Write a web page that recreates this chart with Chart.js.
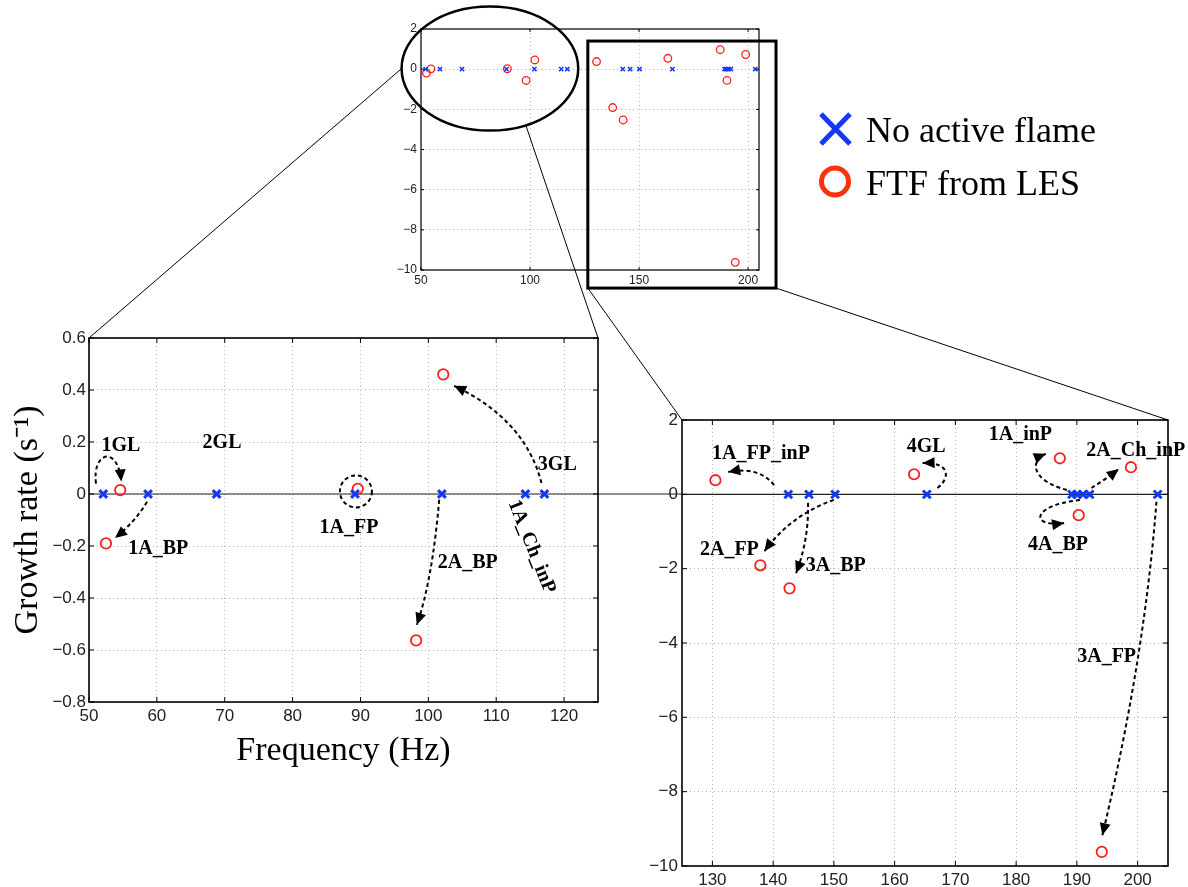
<!DOCTYPE html>
<html>
<head>
<meta charset="utf-8">
<script src="https://cdn.jsdelivr.net/npm/chart.js@4.4.1/dist/chart.umd.min.js"></script>
<style>
  html, body { margin: 0; padding: 0; background: #fff; }
  #wrap { position: relative; width: 1188px; height: 887px; }
  #wrap canvas { position: absolute; left: 0; top: 0; }
</style>
</head>
<body>
<div id="wrap">
  <canvas id="leftChart" width="1188" height="887"></canvas>
  <canvas id="rightChart" width="1188" height="887"></canvas>
  <canvas id="overviewChart" width="1188" height="887"></canvas>
</div>
<script>
// modes without active flame (Hz, growth rate 1/s)
const passiveFreq = [52.1, 58.7, 68.8, 89.2, 102.0, 114.3, 117.1, 142.5, 145.9, 150.2, 165.3, 189.2, 190.0, 191.0, 192.1, 203.3];
const passiveRate = [0, 0, 0, 0, 0, 0, 0, 0, 0, 0, 0, 0, 0, 0, 0, 0];
// modes with FTF from LES
const lesFreq = [52.5, 54.6, 89.6, 98.2, 102.2, 130.5, 137.9, 142.7, 163.2, 187.2, 190.3, 198.9, 194.1];
const lesRate = [-0.19, 0.015, 0.02, -0.563, 0.46, 0.38, -1.91, -2.53, 0.54, 0.97, -0.56, 0.73, -9.62];

const overviewXTicks = [50, 100, 150, 200];
const overviewYTicks = [-10, -8, -6, -4, -2, 0, 2];
const leftXTicks = [50, 60, 70, 80, 90, 100, 110, 120];
const leftYTicks = [-0.8, -0.6, -0.4, -0.2, 0, 0.2, 0.4, 0.6];
const rightXTicks = [130, 140, 150, 160, 170, 180, 190, 200];
const rightYTicks = [-10, -8, -6, -4, -2, 0, 2];

const W = 1188, H = 887;
const BLUE = '#1438f5';
const RED = '#ff1e1e';
const LABEL_FONT = 'bold 20px "Liberation Serif", "Times New Roman", serif';

// plot areas of the three axes
const AREA = {
  overview: {left: 421, top: 29, right: 759, bottom: 270},
  left: {left: 89, top: 338, right: 598, bottom: 702},
  right: {left: 682, top: 420, right: 1168, bottom: 866},
};

// mode labels and arrows, in data units of each axes
const leftLabels = [
  {text: '1GL', x: 54.7, y: 0.186},
  {text: '2GL', x: 69.6, y: 0.197},
  {text: '1A_BP', x: 60.2, y: -0.21},
  {text: '1A_FP', x: 88.3, y: -0.13},
  {text: '2A_BP', x: 105.8, y: -0.264},
  {text: '3GL', x: 119.0, y: 0.113},
  {text: '1A_Ch_inP', x: 115.2, y: -0.203, rot: 68},
];
const leftArrows = [
  [[51.03, 0.04], [50.4, 0.163], [54.28, 0.19], [54.75, 0.048]],
  [[58.55, -0.03], [56.8, -0.107], [53.83, -0.169]],
  [[101.6, -0.022], [100.6, -0.33], [98.3, -0.503]],
  [[116.67, 0.042], [114.3, 0.286], [103.8, 0.416]],
];
const leftRings = [{x: 89.33, y: 0.01, r: 16}];

const rightLabels = [
  {text: '1A_FP_inP', x: 138.0, y: 1.08},
  {text: '2A_FP', x: 132.8, y: -1.48},
  {text: '3A_BP', x: 150.3, y: -1.93},
  {text: '4GL', x: 165.2, y: 1.27},
  {text: '1A_inP', x: 180.7, y: 1.6},
  {text: '2A_Ch_inP', x: 199.7, y: 1.17},
  {text: '4A_BP', x: 186.9, y: -1.36},
  {text: '3A_FP', x: 194.9, y: -4.37},
];
const rightArrows = [
  [[140.16, 0.25], [137.7, 0.76], [132.6, 0.6]],
  [[150.0, -0.15], [142.95, -0.55], [138.57, -1.53]],
  [[145.74, -0.23], [145.9, -1.22], [143.77, -2.12]],
  [[167.05, 0.17], [169.2, 0.44], [169.2, 0.87], [164.6, 0.84]],
  [[188.36, 0.116], [182.3, 0.385], [182.3, 0.92], [184.9, 1.09]],
  [[192.4, 0.17], [194.6, 0.39], [196.9, 0.68]],
  [[190.5, -0.155], [182.3, -0.29], [182.3, -0.91], [187.9, -0.77]],
  [[203.1, -0.2], [201.1, -4.46], [194.2, -9.17]],
];

// zoom markers on the overview axes (data units)
const zoomEllipse = {x: 81.6, y: 0.03, rx: 40.5, ry: 3.09};
const zoomRect = {x0: 126.5, x1: 212.8, y0: 1.4, y1: -10.9};

function points(xs, ys) {
  return xs.map((x, i) => ({x, y: ys[i]}));
}

function fmt(v, digits) {
  const s = v === 0 ? '0' : v.toFixed(digits);
  return s.replace('-', '\u2212');
}

const framePlugin = {
  id: 'frame',
  afterDraw(chart, args, opts) {
    const {ctx, chartArea: a, scales} = chart;
    ctx.save();
    ctx.strokeStyle = '#000';
    ctx.lineWidth = 1;
    ctx.beginPath();
    scales.x.ticks.forEach(t => {
      const px = scales.x.getPixelForValue(t.value);
      ctx.moveTo(px, a.bottom); ctx.lineTo(px, a.bottom - opts.tick);
      ctx.moveTo(px, a.top); ctx.lineTo(px, a.top + opts.tick);
    });
    scales.y.ticks.forEach(t => {
      const py = scales.y.getPixelForValue(t.value);
      ctx.moveTo(a.left, py); ctx.lineTo(a.left + opts.tick, py);
      ctx.moveTo(a.right, py); ctx.lineTo(a.right - opts.tick, py);
    });
    ctx.stroke();
    ctx.lineWidth = opts.width;
    ctx.strokeRect(a.left, a.top, a.right - a.left, a.bottom - a.top);
    ctx.restore();
  }
};

// solid y=0 line, running on to the next axes
const zeroLinePlugin = {
  id: 'zeroLine',
  beforeDatasetsDraw(chart, args, opts) {
    if (!opts.toX) return;
    const {ctx, chartArea: a, scales} = chart;
    const py = scales.y.getPixelForValue(0);
    ctx.save();
    ctx.strokeStyle = '#222';
    ctx.lineWidth = 1.2;
    ctx.beginPath();
    ctx.moveTo(a.left, py);
    ctx.lineTo(opts.toX(chart), py);
    ctx.stroke();
    ctx.restore();
  }
};

function arrowHead(ctx, fx, fy, tx, ty) {
  const ang = Math.atan2(ty - fy, tx - fx);
  const L = 12, w = 5.5;
  const c = Math.cos(ang), s = Math.sin(ang);
  ctx.beginPath();
  ctx.moveTo(tx, ty);
  ctx.lineTo(tx - L * c + w * s, ty - L * s - w * c);
  ctx.lineTo(tx - L * c - w * s, ty - L * s + w * c);
  ctx.closePath();
  ctx.fill();
}

const modeNotesPlugin = {
  id: 'modeNotes',
  afterDatasetsDraw(chart, args, opts) {
    if (!opts.labels) return;
    const {ctx, scales} = chart;
    const px = v => scales.x.getPixelForValue(v);
    const py = v => scales.y.getPixelForValue(v);
    ctx.save();
    ctx.strokeStyle = '#000';
    ctx.fillStyle = '#000';
    ctx.lineWidth = 2;
    (opts.arrows || []).forEach(pts => {
      const p = pts.map(d => [px(d[0]), py(d[1])]);
      ctx.setLineDash([4, 3]);
      ctx.beginPath();
      ctx.moveTo(p[0][0], p[0][1]);
      if (p.length === 3) ctx.quadraticCurveTo(p[1][0], p[1][1], p[2][0], p[2][1]);
      else ctx.bezierCurveTo(p[1][0], p[1][1], p[2][0], p[2][1], p[3][0], p[3][1]);
      ctx.stroke();
      ctx.setLineDash([]);
      const n = p.length;
      arrowHead(ctx, p[n - 2][0], p[n - 2][1], p[n - 1][0], p[n - 1][1]);
    });
    (opts.rings || []).forEach(r => {
      ctx.setLineDash([4, 3]);
      ctx.beginPath();
      ctx.arc(px(r.x), py(r.y), r.r, 0, Math.PI * 2);
      ctx.stroke();
      ctx.setLineDash([]);
    });
    ctx.font = LABEL_FONT;
    ctx.textAlign = 'center';
    ctx.textBaseline = 'middle';
    opts.labels.forEach(l => {
      ctx.save();
      ctx.translate(px(l.x), py(l.y));
      if (l.rot) ctx.rotate(l.rot * Math.PI / 180);
      ctx.fillText(l.text, 0, 0);
      ctx.restore();
    });
    ctx.restore();
  }
};

function scaleOpts(min, max, ticks, digits, size, pad, fit, title) {
  return {
    type: 'linear',
    min: min,
    max: max,
    afterBuildTicks: s => { s.ticks = ticks.map(v => ({value: v})); },
    afterFit: fit,
    ticks: {
      autoSkip: false,
      maxRotation: 0,
      padding: pad,
      color: '#222',
      font: {family: '"Liberation Sans", Arial, sans-serif', size: size},
      callback: v => fmt(v, digits),
    },
    grid: {color: '#b4b4b4', lineWidth: 1, drawTicks: false},
    border: {display: false, dash: [1, 3]},
    title: title || {display: false},
  };
}

function chartConfig(name, cfg) {
  const area = AREA[name];
  return {
    type: 'scatter',
    data: {
      datasets: [
        {
          label: 'No active flame',
          data: points(passiveFreq, passiveRate),
          pointStyle: 'crossRot',
          radius: cfg.crossR,
          borderWidth: cfg.crossW,
          borderColor: BLUE,
          backgroundColor: BLUE,
        },
        {
          label: 'FTF from LES',
          data: points(lesFreq, lesRate),
          pointStyle: 'circle',
          radius: cfg.circleR,
          borderWidth: cfg.circleW,
          borderColor: RED,
          backgroundColor: 'rgba(0,0,0,0)',
        },
      ]
    },
    options: {
      responsive: false,
      animation: false,
      devicePixelRatio: 1,
      events: [],
      layout: {
        padding: {
          left: area.left - cfg.yWidth,
          top: area.top,
          right: W - area.right,
          bottom: H - area.bottom - cfg.xHeight,
        }
      },
      scales: {
        x: scaleOpts(cfg.xMin, cfg.xMax, cfg.xTicks, 0, cfg.font, cfg.xPad,
          s => { s.height = cfg.xHeight; }, cfg.xTitle),
        y: scaleOpts(cfg.yMin, cfg.yMax, cfg.yTicks, cfg.yDigits, cfg.font, cfg.yPad,
          s => { s.width = cfg.yWidth; }, cfg.yTitle),
      },
      plugins: {
        legend: {display: false},
        tooltip: {enabled: false},
        frame: {width: cfg.frameW, tick: cfg.tick},
        zeroLine: {toX: cfg.zeroTo},
        modeNotes: {labels: cfg.labels, arrows: cfg.arrows, rings: cfg.rings},
      }
    },
    plugins: [framePlugin, zeroLinePlugin, modeNotesPlugin, ...(cfg.extra || [])],
  };
}

const serif = '"Liberation Serif", "Times New Roman", serif';

const leftChart = new Chart(document.getElementById('leftChart'), chartConfig('left', {
  xMin: 50, xMax: 125, xTicks: leftXTicks,
  yMin: -0.8, yMax: 0.6, yTicks: leftYTicks, yDigits: 1,
  font: 17, xPad: 4, yPad: 3, yWidth: 80, xHeight: 66.5,
  crossR: 5.5, crossW: 3, circleR: 5.2, circleW: 1.8, frameW: 1.6, tick: 5,
  xTitle: {display: true, text: 'Frequency (Hz)', color: '#000',
    font: {family: serif, size: 34, lineHeight: 1}, padding: {top: 0, bottom: 0}},
  yTitle: {display: true, text: 'Growth rate (s\u207B\u00B9)', color: '#000',
    font: {family: serif, size: 34, lineHeight: 1}, padding: {top: 2, bottom: 0}},
  zeroTo: () => AREA.right.left,
  labels: leftLabels, arrows: leftArrows, rings: leftRings,
}));

const rightChart = new Chart(document.getElementById('rightChart'), chartConfig('right', {
  xMin: 125, xMax: 205, xTicks: rightXTicks,
  yMin: -10, yMax: 2, yTicks: rightYTicks, yDigits: 0,
  font: 17, xPad: 4, yPad: 4, yWidth: 40, xHeight: 21,
  crossR: 5.5, crossW: 3, circleR: 5.2, circleW: 1.8, frameW: 1.6, tick: 5,
  zeroTo: c => c.chartArea.right,
  labels: rightLabels, arrows: rightArrows,
}));

// ellipse, zoom box, connector lines and legend
const overlayPlugin = {
  id: 'overlay',
  afterDraw(chart) {
    const {ctx, scales} = chart;
    const px = v => scales.x.getPixelForValue(v);
    const py = v => scales.y.getPixelForValue(v);
    const L = leftChart.chartArea, R = rightChart.chartArea;
    ctx.save();
    ctx.strokeStyle = '#000';

    const cx = px(zoomEllipse.x), cy = py(zoomEllipse.y);
    const rx = px(zoomEllipse.x + zoomEllipse.rx) - cx;
    const ry = py(zoomEllipse.y - zoomEllipse.ry) - cy;
    ctx.lineWidth = 2.5;
    ctx.beginPath();
    ctx.ellipse(cx, cy, rx, ry, 0, 0, Math.PI * 2);
    ctx.stroke();

    const x0 = px(zoomRect.x0), x1 = px(zoomRect.x1);
    const y0 = py(zoomRect.y0), y1 = py(zoomRect.y1);
    ctx.lineWidth = 3;
    ctx.strokeRect(x0, y0, x1 - x0, y1 - y0);

    const t = 66 * Math.PI / 180;
    ctx.lineWidth = 1;
    ctx.beginPath();
    ctx.moveTo(cx - rx, cy); ctx.lineTo(L.left, L.top);
    ctx.moveTo(cx + rx * Math.cos(t), cy + ry * Math.sin(t)); ctx.lineTo(L.right, L.top);
    ctx.moveTo(x0, y1); ctx.lineTo(R.left, R.top);
    ctx.moveTo(x1, y1); ctx.lineTo(R.right, R.top);
    ctx.stroke();

    // legend
    ctx.lineCap = 'butt';
    ctx.strokeStyle = BLUE;
    ctx.lineWidth = 5;
    ctx.beginPath();
    ctx.moveTo(821, 114); ctx.lineTo(850, 144);
    ctx.moveTo(850, 114); ctx.lineTo(821, 144);
    ctx.stroke();
    ctx.strokeStyle = '#ff3010';
    ctx.beginPath();
    ctx.arc(835, 181.5, 13.5, 0, Math.PI * 2);
    ctx.stroke();
    ctx.fillStyle = '#000';
    ctx.font = '36px ' + serif;
    ctx.textAlign = 'left';
    ctx.textBaseline = 'alphabetic';
    ctx.fillText('No active flame', 866, 142);
    ctx.fillText('FTF from LES', 866, 195);
    ctx.restore();
  }
};

const overviewChart = new Chart(document.getElementById('overviewChart'), chartConfig('overview', {
  xMin: 50, xMax: 205, xTicks: overviewXTicks,
  yMin: -10, yMax: 2, yTicks: overviewYTicks, yDigits: 0,
  font: 12, xPad: 3, yPad: 4, yWidth: 40, xHeight: 20,
  crossR: 3, crossW: 1.6, circleR: 3.8, circleW: 1.3, frameW: 1.2, tick: 3,
  extra: [overlayPlugin],
}));
</script>
</body>
</html>
